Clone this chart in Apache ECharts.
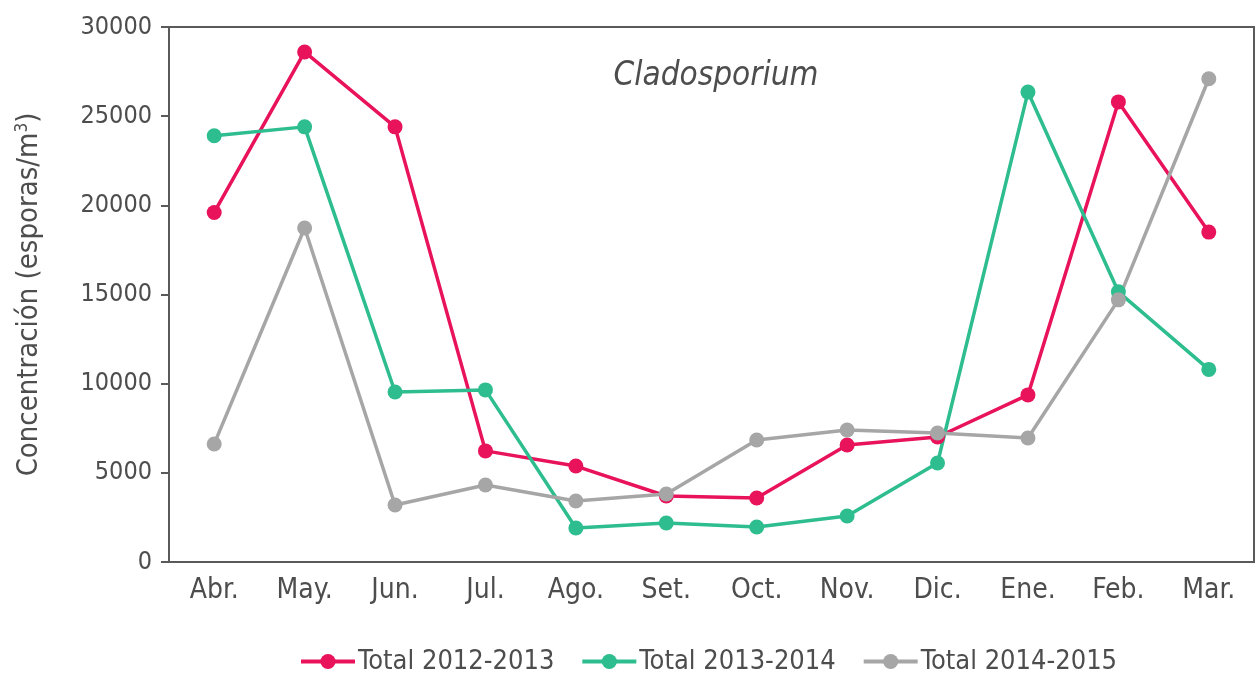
<!DOCTYPE html>
<html><head><meta charset="utf-8">
<script src="https://cdn.jsdelivr.net/npm/echarts@6/dist/echarts.min.js"></script>
<style>html,body{margin:0;padding:0;background:#fff}#c{width:1256px;height:675px}</style>
</head><body><div id="c"></div>
<script>
const months = ['Abr.','May.','Jun.','Jul.','Ago.','Set.','Oct.','Nov.','Dic.','Ene.','Feb.','Mar.'];
const s1213 = [19600,28600,24400,6230,5380,3700,3590,6560,7010,9370,25800,18500];
const s1314 = [23900,24400,9530,9650,1910,2190,1960,2580,5550,26350,15150,10800];
const s1415 = [6620,18730,3200,4320,3420,3810,6840,7400,7230,6950,14700,27100];
const seriesNames = ['Total 2012-2013','Total 2013-2014','Total 2014-2015'];
const colors = ['#E8135A','#2EBD8E','#A6A6A6'];
const FONT = '"DejaVu Sans Condensed","Liberation Sans Narrow",sans-serif';
const chart = echarts.init(document.getElementById('c'));
const mk = (name, data, color) => ({
  name, type:'line', data, symbol:'circle', symbolSize:15,
  lineStyle:{color, width:3.5}, itemStyle:{color}, z:2
});
chart.setOption({
  animation:false,
  textStyle:{fontFamily:FONT},
  title:{text:'Cladosporium', left:711, top:55, textAlign:'center',
    textStyle:{fontFamily:FONT, fontStyle:'italic', fontWeight:'normal', fontSize:33, color:'#4d4d4d'}},
  grid:{left:169, right:2, top:27, bottom:113, show:true, borderColor:'#5a5a5a', borderWidth:2, backgroundColor:'transparent', outerBoundsMode:'none', containLabel:false},
  legend:{top:643, left:294, itemWidth:54, itemHeight:19, itemGap:26,
    lineStyle:{width:4}, itemStyle:{borderWidth:0},
    textStyle:{fontFamily:FONT, fontSize:27, color:'#4d4d4d', padding:[0,0,0,-2]}, data:seriesNames},
  xAxis:{type:'category', data:months, boundaryGap:true,
    axisLine:{lineStyle:{color:'#5a5a5a', width:2}}, axisTick:{show:false},
    axisLabel:{fontFamily:FONT, fontSize:28, color:'#4d4d4d', margin:15}},
  yAxis:{type:'value', min:0, max:30000, interval:5000,
    name:'Concentración (esporas/m{sup|3})', nameLocation:'middle', nameGap:124, nameRotate:90,
    nameTextStyle:{fontFamily:FONT, fontSize:29, color:'#4d4d4d',
      rich:{sup:{fontSize:17, verticalAlign:'top', color:'#4d4d4d', fontFamily:FONT, padding:[0,0,14,0]}}},
    axisLine:{show:true, lineStyle:{color:'#5a5a5a', width:2}},
    axisTick:{show:true, length:8, lineStyle:{color:'#5a5a5a', width:2}},
    splitLine:{show:false},
    axisLabel:{fontFamily:FONT, fontSize:25, color:'#4d4d4d', margin:17, formatter:v=>String(v)}},
  series:[mk(seriesNames[0], s1213, colors[0]), mk(seriesNames[1], s1314, colors[1]), mk(seriesNames[2], s1415, colors[2])]
});
</script></body></html>
